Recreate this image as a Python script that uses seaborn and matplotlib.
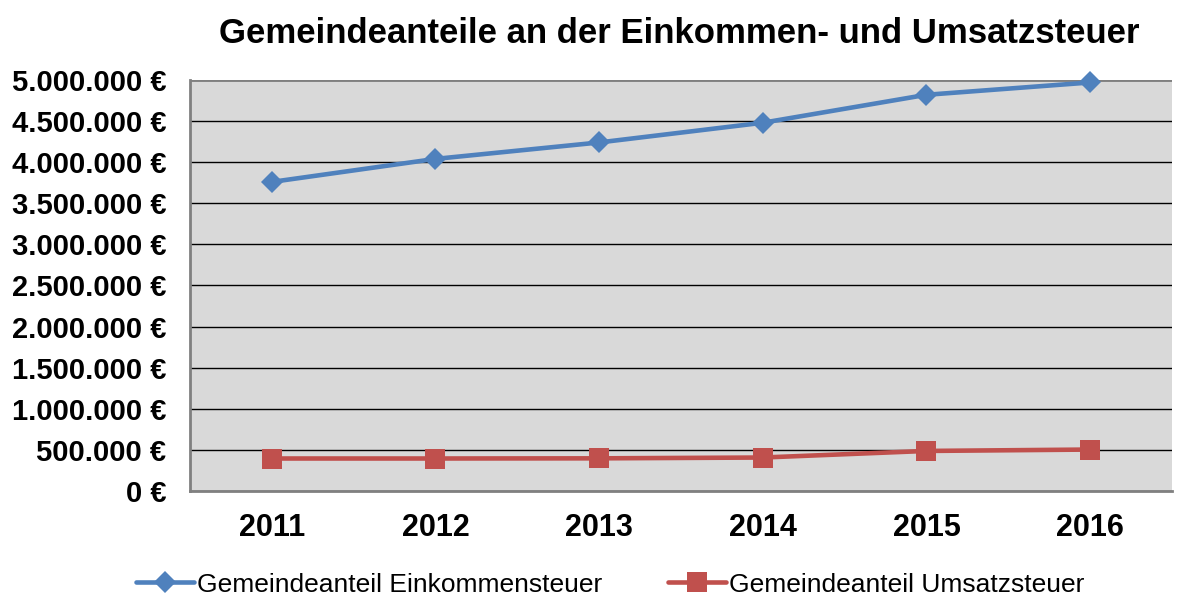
import pandas as pd
import matplotlib
matplotlib.use('Agg')
import matplotlib.pyplot as plt
import seaborn as sns

# Daten
jahre = ['2011', '2012', '2013', '2014', '2015', '2016']
einkommensteuer = [3760000, 4040000, 4240000, 4480000, 4820000, 4970000]
umsatzsteuer = [395000, 395000, 397000, 407000, 487000, 504000]
serien = ['Gemeindeanteil Einkommensteuer', 'Gemeindeanteil Umsatzsteuer']
y_ticks = list(range(0, 5000001, 500000))

df = pd.DataFrame({
    'Jahr': jahre * 2,
    'Betrag': einkommensteuer + umsatzsteuer,
    'Serie': [serien[0]] * len(jahre) + [serien[1]] * len(jahre),
})

sns.set_style('white')
plt.rcParams['font.family'] = ['Liberation Sans', 'DejaVu Sans']
plt.rcParams['text.color'] = 'black'
plt.rcParams['xtick.color'] = 'black'
plt.rcParams['ytick.color'] = 'black'

fig = plt.figure(figsize=(11.82, 5.97), dpi=100)
ax = fig.add_axes([0.1607, 0.1776, 0.8308, 0.6884])
ax.set_facecolor('#D9D9D9')

sns.lineplot(data=df, x='Jahr', y='Betrag', hue='Serie', style='Serie',
             palette=['#4F81BD', '#C0504D'], markers=['D', 's'], dashes=False,
             linewidth=3.3, markersize=11, markeredgewidth=0, ax=ax)
# Quadrate etwas größer als Rauten
ax.lines[1].set_markersize(14)
for ln in ax.lines[:2]:
    ln.set_clip_on(False)
    ln.set_zorder(3)

ax.set_xlim(-0.5, 5.5)
ax.set_ylim(0, 5000000)
ax.set_yticks(y_ticks)
ax.set_yticklabels([f'{v:,.0f} €'.replace(',', '.') for v in y_ticks])
ax.grid(axis='y', color='black', linewidth=1)
ax.set_axisbelow(True)
ax.tick_params(axis='both', length=0)
ax.tick_params(axis='y', labelsize=21, pad=17)
ax.tick_params(axis='x', labelsize=22, pad=16)
for lab in ax.get_xticklabels() + ax.get_yticklabels():
    lab.set_fontweight('bold')

for side in ['left', 'bottom']:
    ax.spines[side].set_color('#808080')
    ax.spines[side].set_linewidth(2)
for side in ['top', 'right']:
    ax.spines[side].set_visible(False)
ax.axhline(5000000, color='#808080', linewidth=2, zorder=1.5)

ax.set_xlabel('')
ax.set_ylabel('')
fig.suptitle('Gemeindeanteile an der Einkommen- und Umsatzsteuer',
             fontsize=25, fontweight='bold', x=0.575, y=0.972)

leg = ax.legend(loc='upper center', bbox_to_anchor=(0.428, -0.16), ncol=2,
                frameon=False, fontsize=19, handlelength=2.2, handletextpad=0.1,
                columnspacing=2.5, borderaxespad=0.2)
leg.legend_handles[1].set_markersize(14)

fig.savefig('out.png', dpi=100)
